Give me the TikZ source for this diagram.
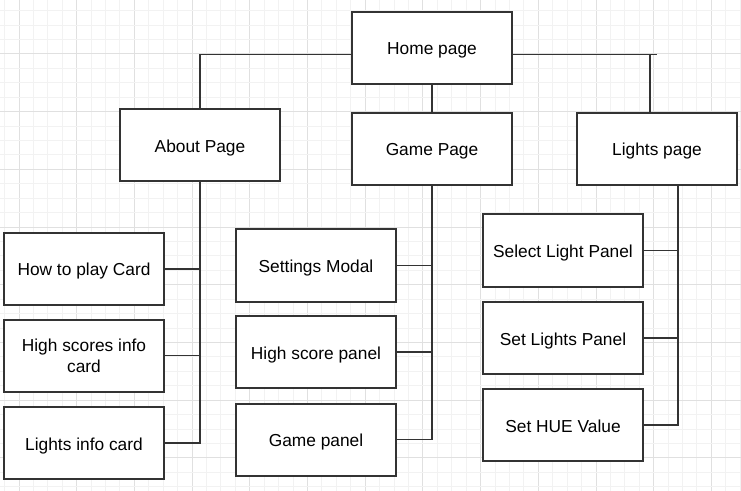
\documentclass[tikz,border=0pt]{standalone}
\usepackage{fontspec}
\setmainfont{Liberation Sans}
\usetikzlibrary{calc}
\definecolor{gridminor}{HTML}{F2F2F2}
\definecolor{gridmajor}{HTML}{E0E0E0}
\definecolor{boxline}{HTML}{333333}
\tikzset{
  pagebox/.style={draw=boxline, line width=1.5pt, fill=white, inner sep=2pt,
    minimum width=120pt, minimum height=54pt, align=center,
    font=\fontsize{13}{15.5}\selectfont, text=black},
  oneline/.style={pagebox, text height=12pt, text depth=1.5pt},
  link/.style={draw=boxline, line width=1.3pt},
}
\begin{document}
\begin{tikzpicture}[x=0.75pt,y=-0.75pt]
\useasboundingbox (0,0) rectangle (741,491);
\fill[white] (0,0) rectangle (741,491);
% grid
\foreach \k in {-1,...,50} {
  \pgfmathsetmacro{\gx}{19+14.425*\k}
  \pgfmathtruncatemacro{\m}{mod(\k+40,4)}
  \ifnum\m=0 \draw[gridmajor,line width=0.75pt] (\gx,0) -- (\gx,491);
  \else \draw[gridminor,line width=0.75pt] (\gx,0) -- (\gx,491); \fi
}
\foreach \k in {-4,...,30} {
  \pgfmathsetmacro{\gy}{54+14.425*\k}
  \pgfmathtruncatemacro{\m}{mod(\k+40,4)}
  \ifnum\m=0 \draw[gridmajor,line width=0.75pt] (0,\gy) -- (741,\gy);
  \else \draw[gridminor,line width=0.75pt] (0,\gy) -- (741,\gy); \fi
}
% nodes
\node[oneline] (home)   at (432,48)    {Home page};
\node[oneline] (about)  at (200,145.5) {About Page};
\node[oneline] (game)   at (432,149)   {Game Page};
\node[oneline] (lights) at (657,149)   {Lights page};

\node[oneline] (howto)  at (84,269)    {How to play Card};
\node[pagebox] (hsinfo) at (84,355.5)  {High scores info\\card};
\node[oneline] (linfo)  at (84,443)    {Lights info card};

\node[oneline] (settings) at (316,265.5) {Settings Modal};
\node[oneline] (hspanel)  at (316,352)   {High score panel};
\node[oneline] (gpanel)   at (316,439.5) {Game panel};

\node[oneline] (select) at (563,250.5) {Select Light Panel};
\node[oneline] (setl)   at (563,338)   {Set Lights Panel};
\node[oneline] (hue)    at (563,425)   {Set HUE Value};

% connectors
\coordinate (hl) at ($(home.west)+(0,6.5)$);
\coordinate (hr) at ($(home.east)+(0,6.5)$);
\coordinate (hrend) at (657,54.5);
\coordinate (hrdrop) at (650,54.5);
\coordinate (ltrunk) at (678,185);
\draw[link] (hl) -| (about.north);
\draw[link] (hr) -- (hrend);
\draw[link] (hrdrop) -- (hrdrop |- lights.north);
\draw[link] (home.south) -- (game.north);

\draw[link] (about.south) |- (linfo.east);
\draw[link] (howto.east) -- (howto.east -| about.south);
\draw[link] (hsinfo.east) -- (hsinfo.east -| about.south);

\draw[link] (game.south) |- (gpanel.east);
\draw[link] (settings.east) -- (settings.east -| game.south);
\draw[link] (hspanel.east) -- (hspanel.east -| game.south);

\draw[link] (ltrunk |- lights.south) |- (hue.east);
\draw[link] (select.east) -- (select.east -| ltrunk);
\draw[link] (setl.east) -- (setl.east -| ltrunk);
\end{tikzpicture}
\end{document}
